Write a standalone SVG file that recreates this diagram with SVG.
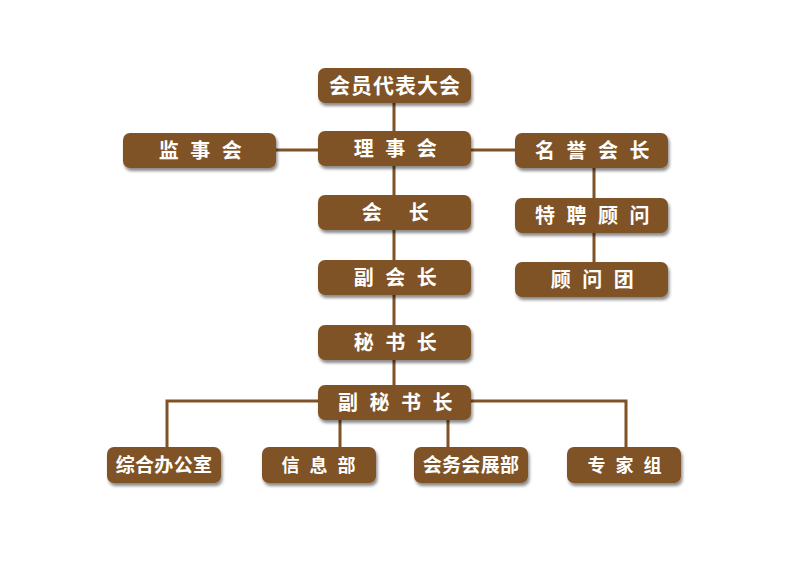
<svg xmlns="http://www.w3.org/2000/svg" width="800" height="568" viewBox="0 0 800 568">
<defs>
<filter id="sh" x="-10%" y="-20%" width="125%" height="160%">
<feDropShadow dx="1.5" dy="3" stdDeviation="1.5" flood-color="#000" flood-opacity="0.45"/>
</filter>
<style>
.box{fill:#7f5227;filter:url(#sh);}
.t{fill:#fff;font-family:"Noto Sans CJK SC","Noto Sans",sans-serif;font-weight:bold;font-size:20px;text-anchor:middle;letter-spacing:3.5px;}
.t0{letter-spacing:1px;font-size:21px;}
.ts{font-size:19px;letter-spacing:0.3px;}
.tm{font-size:18px;letter-spacing:3px;}
.ln{stroke:#7f5227;stroke-width:3;fill:none;}
</style>
</defs>
<rect width="800" height="568" fill="#fff"/>
<g id="connectors">
<path class="ln" d="M394 86V403"/>
<path class="ln" d="M276 150H515"/>
<path class="ln" d="M594 150V280"/>
<path class="ln" d="M167 447V401H626V447"/>
<path class="ln" d="M340 403V447M448 403V447"/>
</g>
<g id="n-hydb"><rect class="box" x="318" y="68" width="153" height="35" rx="7"/><text class="t t0" x="395" y="93">会员代表大会</text></g>
<g id="n-lsh"><rect class="box" x="318" y="131" width="153" height="35" rx="7"/><text class="t" x="397" y="156">理 事 会</text></g>
<g id="n-jsh"><rect class="box" x="123" y="133" width="153" height="35" rx="7"/><text class="t" x="202" y="158">监 事 会</text></g>
<g id="n-myhz"><rect class="box" x="515" y="133" width="153" height="35" rx="7"/><text class="t" x="594" y="158">名 誉 会 长</text></g>
<g id="n-tpgw"><rect class="box" x="515" y="198" width="153" height="35" rx="7"/><text class="t" x="594" y="223">特 聘 顾 问</text></g>
<g id="n-gwt"><rect class="box" x="515" y="262" width="153" height="35" rx="7"/><text class="t" x="594" y="287">顾 问 团</text></g>
<g id="n-hz"><rect class="box" x="318" y="195" width="153" height="35" rx="7"/><text class="t" x="397" y="220">会　长</text></g>
<g id="n-fhz"><rect class="box" x="318" y="260" width="153" height="35" rx="7"/><text class="t" x="397" y="285">副 会 长</text></g>
<g id="n-msz"><rect class="box" x="318" y="325" width="153" height="35" rx="7"/><text class="t" x="397" y="350">秘 书 长</text></g>
<g id="n-fmsz"><rect class="box" x="318" y="385" width="153" height="35" rx="7"/><text class="t" x="397" y="410">副 秘 书 长</text></g>
<g id="n-zhbgs"><rect class="box" x="107" y="447" width="114" height="36" rx="7"/><text class="t ts" x="164" y="472">综合办公室</text></g>
<g id="n-xxb"><rect class="box" x="262" y="447" width="114" height="36" rx="7"/><text class="t tm" x="320" y="472">信 息 部</text></g>
<g id="n-hwhzb"><rect class="box" x="414" y="447" width="114" height="36" rx="7"/><text class="t ts" x="471" y="472">会务会展部</text></g>
<g id="n-zjz"><rect class="box" x="567" y="447" width="114" height="36" rx="7"/><text class="t tm" x="626" y="472">专 家 组</text></g>
</svg>
